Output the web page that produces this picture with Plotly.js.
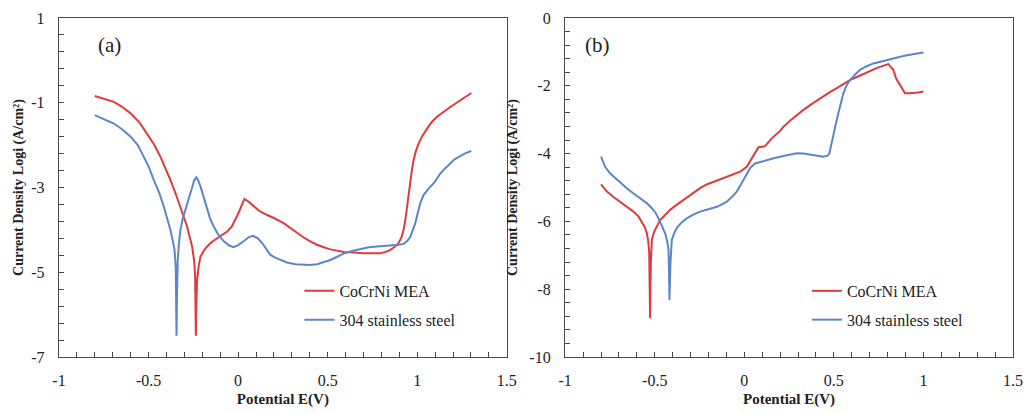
<!DOCTYPE html>
<html>
<head>
<meta charset="utf-8">
<script src="https://cdn.plot.ly/plotly-3.0.1.min.js"></script>
<style>html,body{margin:0;padding:0;background:#fff;}#chart{width:1028px;height:413px;}</style>
</head>
<body>
<div id="chart"></div>
<script>
// ---------- Panel (a) ----------
const aRedX = [-0.80,-0.75,-0.694,-0.65,-0.60,-0.55,-0.508,-0.47,-0.434,-0.40,-0.378,-0.35,-0.322,-0.285,-0.257,-0.245,-0.240,-0.237,-0.236,-0.233,-0.229,-0.22,-0.21,-0.19,-0.173,-0.145,-0.117,-0.09,-0.061,-0.035,-0.015,0.0,0.013,0.035,0.06,0.087,0.12,0.162,0.20,0.254,0.29,0.329,0.366,0.403,0.44,0.478,0.515,0.552,0.59,0.627,0.66,0.701,0.75,0.794,0.825,0.850,0.875,0.896,0.912,0.924,0.935,0.943,0.952,0.962,0.971,0.98,0.993,1.008,1.03,1.055,1.08,1.110,1.15,1.185,1.22,1.24,1.27,1.302];
const aRedY = [-0.84,-0.90,-0.98,-1.09,-1.25,-1.47,-1.73,-1.98,-2.27,-2.58,-2.82,-3.13,-3.45,-3.92,-4.39,-4.75,-5.1,-5.8,-6.5,-5.7,-5.18,-4.85,-4.63,-4.48,-4.39,-4.28,-4.2,-4.12,-4.04,-3.92,-3.76,-3.62,-3.49,-3.27,-3.34,-3.45,-3.56,-3.65,-3.72,-3.84,-3.95,-4.08,-4.18,-4.27,-4.35,-4.41,-4.46,-4.49,-4.52,-4.53,-4.54,-4.55,-4.55,-4.55,-4.52,-4.47,-4.40,-4.31,-4.18,-4.0,-3.72,-3.45,-3.13,-2.82,-2.56,-2.35,-2.13,-1.96,-1.77,-1.61,-1.46,-1.33,-1.20,-1.10,-1.00,-0.94,-0.85,-0.77];
const aBlueX = [-0.80,-0.75,-0.694,-0.65,-0.60,-0.56,-0.527,-0.50,-0.471,-0.44,-0.415,-0.395,-0.378,-0.365,-0.355,-0.348,-0.345,-0.344,-0.341,-0.337,-0.33,-0.322,-0.31,-0.294,-0.275,-0.257,-0.245,-0.233,-0.222,-0.21,-0.19,-0.173,-0.155,-0.136,-0.11,-0.08,-0.05,-0.025,0.0,0.031,0.06,0.084,0.11,0.134,0.16,0.18,0.21,0.236,0.273,0.32,0.366,0.40,0.441,0.48,0.515,0.55,0.589,0.635,0.683,0.73,0.776,0.82,0.868,0.90,0.924,0.945,0.962,0.975,0.989,1.003,1.017,1.035,1.055,1.075,1.092,1.11,1.129,1.155,1.185,1.21,1.24,1.27,1.302];
const aBlueY = [-1.29,-1.38,-1.49,-1.62,-1.80,-2.00,-2.27,-2.50,-2.82,-3.13,-3.45,-3.73,-4.0,-4.25,-4.47,-4.9,-5.6,-6.5,-5.5,-4.71,-4.3,-4.0,-3.75,-3.53,-3.25,-2.98,-2.83,-2.76,-2.84,-2.98,-3.28,-3.53,-3.75,-3.92,-4.12,-4.27,-4.37,-4.41,-4.36,-4.27,-4.17,-4.14,-4.2,-4.31,-4.48,-4.59,-4.66,-4.71,-4.77,-4.81,-4.83,-4.83,-4.81,-4.76,-4.71,-4.64,-4.56,-4.50,-4.45,-4.41,-4.39,-4.38,-4.37,-4.35,-4.33,-4.26,-4.16,-4.02,-3.84,-3.6,-3.37,-3.18,-3.06,-2.97,-2.90,-2.78,-2.67,-2.55,-2.43,-2.33,-2.26,-2.19,-2.14];

// ---------- Panel (b) ----------
const bRedX = [-0.80,-0.767,-0.73,-0.693,-0.655,-0.619,-0.59,-0.572,-0.555,-0.544,-0.536,-0.531,-0.528,-0.526,-0.522,-0.516,-0.508,-0.498,-0.47,-0.44,-0.414,-0.38,-0.34,-0.29,-0.247,-0.21,-0.172,-0.135,-0.098,-0.06,-0.023,0.014,0.035,0.051,0.065,0.079,0.1,0.116,0.135,0.153,0.20,0.218,0.255,0.293,0.33,0.367,0.405,0.441,0.48,0.516,0.553,0.59,0.628,0.665,0.70,0.739,0.77,0.804,0.817,0.832,0.847,0.86,0.87,0.885,0.897,0.92,0.944,0.97,1.0];
const bRedY = [-4.91,-5.12,-5.28,-5.42,-5.56,-5.71,-5.86,-6.01,-6.18,-6.35,-6.6,-6.9,-7.6,-8.86,-7.2,-6.55,-6.38,-6.25,-5.96,-5.8,-5.66,-5.52,-5.37,-5.18,-5.02,-4.91,-4.83,-4.75,-4.68,-4.61,-4.53,-4.39,-4.2,-4.04,-3.9,-3.81,-3.8,-3.78,-3.66,-3.55,-3.33,-3.21,-3.03,-2.86,-2.71,-2.57,-2.43,-2.30,-2.18,-2.07,-1.95,-1.83,-1.74,-1.65,-1.56,-1.48,-1.42,-1.36,-1.44,-1.53,-1.78,-1.9,-1.98,-2.1,-2.22,-2.22,-2.22,-2.2,-2.17];
const bBlueX = [-0.80,-0.777,-0.75,-0.73,-0.69,-0.656,-0.62,-0.581,-0.545,-0.516,-0.495,-0.479,-0.46,-0.442,-0.43,-0.423,-0.42,-0.418,-0.412,-0.405,-0.39,-0.377,-0.35,-0.321,-0.285,-0.247,-0.2,-0.153,-0.125,-0.098,-0.07,-0.042,-0.005,0.032,0.06,0.09,0.126,0.17,0.218,0.255,0.293,0.33,0.367,0.41,0.441,0.465,0.475,0.485,0.497,0.51,0.525,0.54,0.553,0.57,0.590,0.62,0.646,0.68,0.720,0.76,0.795,0.84,0.888,0.94,1.0];
const bBlueY = [-4.09,-4.39,-4.58,-4.68,-4.86,-5.02,-5.17,-5.32,-5.46,-5.61,-5.75,-5.91,-6.12,-6.35,-6.6,-6.84,-7.6,-8.32,-7.2,-6.55,-6.33,-6.2,-6.03,-5.91,-5.8,-5.71,-5.64,-5.57,-5.5,-5.42,-5.28,-5.12,-4.78,-4.43,-4.29,-4.24,-4.2,-4.13,-4.07,-4.02,-3.99,-4.0,-4.03,-4.07,-4.09,-4.06,-3.99,-3.75,-3.50,-3.15,-2.81,-2.5,-2.22,-2.0,-1.83,-1.66,-1.53,-1.43,-1.34,-1.29,-1.24,-1.19,-1.12,-1.07,-1.02];

// ---------- Labels ----------
const seriesNames = ["CoCrNi MEA", "304 stainless steel"];
const panelLabels = ["(a)", "(b)"];
const xTitle = "Potential E(V)";
const yTitle = "Current Density Logi (A/cm²)";
const xTickVals = [-1, -0.5, 0, 0.5, 1, 1.5];
const xTickText = ["-1", "-0.5", "0", "0.5", "1", "1.5"];
const aYTickVals = [-7, -5, -3, -1, 1];
const aYTickText = ["-7", "-5", "-3", "-1", "1"];
const bYTickVals = [-10, -8, -6, -4, -2, 0];
const bYTickText = ["-10", "-8", "-6", "-4", "-2", "0"];

const RED = "#e03a3c", BLUE = "#5b86c8";
const FONT = "Liberation Serif";
const AX = "#4a4a4a", TXT = "#222";

const traces = [
  {x:aRedX, y:aRedY, xaxis:"x", yaxis:"y", name:seriesNames[0], mode:"lines", line:{color:RED,width:2}, legend:"legend", legendgroup:"a1"},
  {x:aBlueX, y:aBlueY, xaxis:"x", yaxis:"y", name:seriesNames[1], mode:"lines", line:{color:BLUE,width:2}, legend:"legend", legendgroup:"a2"},
  {x:bRedX, y:bRedY, xaxis:"x2", yaxis:"y2", name:seriesNames[0], mode:"lines", line:{color:RED,width:2}, legend:"legend2", legendgroup:"b1"},
  {x:bBlueX, y:bBlueY, xaxis:"x2", yaxis:"y2", name:seriesNames[1], mode:"lines", line:{color:BLUE,width:2}, legend:"legend2", legendgroup:"b2"}
];

function xax(domain, anchor){
  return {domain:domain, anchor:anchor, range:[-1,1.5],
    tickmode:"array", tickvals:xTickVals, ticktext:xTickText,
    showgrid:false, zeroline:false, showline:true, mirror:true, linecolor:AX, linewidth:1.3,
    ticks:"inside", ticklen:5, tickcolor:AX, ticklabelstandoff:8,
    minor:{dtick:0.1, tick0:-1, ticks:"inside", ticklen:5, tickcolor:AX, showgrid:false},
    tickfont:{family:FONT, size:16, color:TXT},
    title:{text:"<b>"+xTitle+"</b>", font:{family:FONT, size:15, color:TXT}, standoff:6}};
}
function yax(range, vals, text, anchor, standoff){
  return {domain:[0,1], anchor:anchor, range:range,
    tickmode:"array", tickvals:vals, ticktext:text,
    showgrid:false, zeroline:false, showline:true, mirror:true, linecolor:AX, linewidth:1.3,
    ticks:"inside", ticklen:5, tickcolor:AX, ticklabelstandoff:10,
    minor:{dtick:0.4, tick0:range[0], ticks:"inside", ticklen:5, tickcolor:AX, showgrid:false},
    tickfont:{family:FONT, size:16, color:TXT},
    title:{text:"<b>"+yTitle+"</b>", font:{family:FONT, size:14, color:TXT}, standoff:standoff}};
}

const legendBase = {orientation:"v", bgcolor:"rgba(0,0,0,0)", borderwidth:0,
  font:{family:FONT, size:16, color:TXT}, tracegroupgap:5, xanchor:"left", yanchor:"top"};

const layout = {
  width:1028, height:413,
  margin:{l:58.5, r:15, t:17.5, b:55.5},
  paper_bgcolor:"#fff", plot_bgcolor:"#fff",
  font:{family:FONT, color:TXT},
  xaxis: xax([0,0.4694], "y"),
  yaxis: yax([-7,1], aYTickVals, aYTickText, "x", 4),
  xaxis2: xax([0.5306,1], "y2"),
  yaxis2: yax([-10,0], bYTickVals, bYTickText, "x2", 8),
  legend: Object.assign({}, legendBase, {x:0.252, y:0.245}),
  legend2: Object.assign({}, legendBase, {x:0.784, y:0.245}),
  annotations:[
    {text:panelLabels[0], xref:"paper", yref:"paper", x:0.053, y:0.919, showarrow:false, xanchor:"center", yanchor:"middle", font:{family:FONT, size:21, color:TXT}},
    {text:panelLabels[1], xref:"paper", yref:"paper", x:0.564, y:0.919, showarrow:false, xanchor:"center", yanchor:"middle", font:{family:FONT, size:21, color:TXT}}
  ]
};

Plotly.newPlot("chart", traces, layout, {displayModeBar:false, staticPlot:true});
</script>
</body>
</html>
